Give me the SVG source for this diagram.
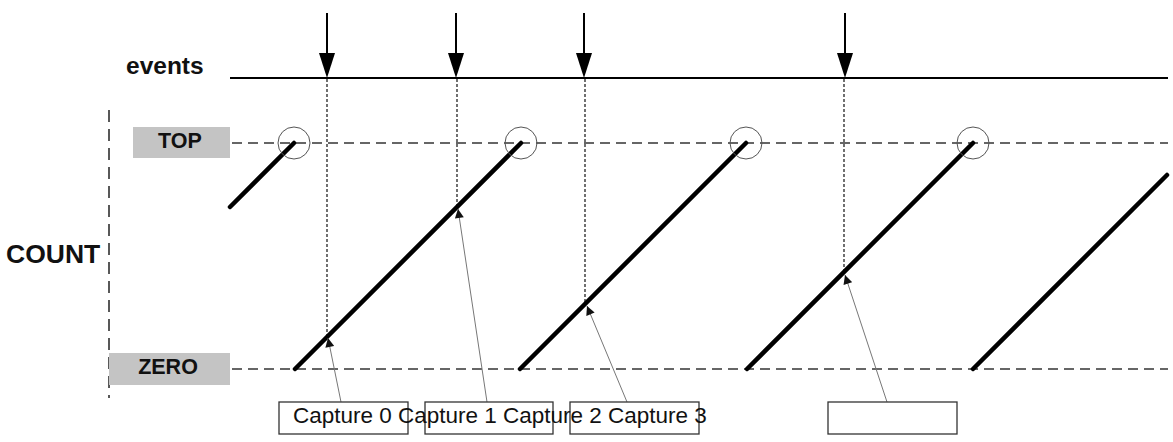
<svg xmlns="http://www.w3.org/2000/svg" width="1173" height="442" viewBox="0 0 1173 442">
<style>
.lbl{font-family:"Liberation Sans",Arial,sans-serif;font-weight:bold;fill:#111}
.cap{font-family:"Liberation Sans",Arial,sans-serif;font-size:22.5px;fill:#111}
.lvl{stroke:#666;stroke-width:2;stroke-dasharray:10 6;fill:none}
.dot{stroke:#111;stroke-width:1.2;stroke-dasharray:3 2;fill:none}
.saw{stroke:#000;stroke-width:4.5;stroke-linecap:round;fill:none}
.ring{stroke:#555;stroke-width:1;fill:none}
.box{stroke:#333;stroke-width:1.3;fill:#fff}
.ptr{stroke:#777;stroke-width:1;fill:none;marker-end:url(#ah)}
.ev{stroke:#000;stroke-width:2;fill:none}
.gbox{fill:#c4c4c4}
</style>
<defs>
<marker id="ah" viewBox="0 0 10 10" refX="10" refY="5" markerWidth="10" markerHeight="9" markerUnits="userSpaceOnUse" orient="auto">
<path d="M0,0 L10,5 L0,10 Z" fill="#111"/>
</marker>
<polygon id="evhead" points="-8,0 8,0 0,25" fill="#000"/>
</defs>
<rect width="1173" height="442" fill="#fff"/>

<g id="events">
<text class="lbl" x="126" y="74" font-size="24.5">events</text>
<line class="ev" x1="230" y1="78" x2="1168" y2="78" stroke-width="2.5"/>
<line class="ev" x1="327" y1="13" x2="327" y2="56"/>
<use href="#evhead" x="327" y="53"/>
<line class="ev" x1="456" y1="13" x2="456" y2="56"/>
<use href="#evhead" x="456" y="53"/>
<line class="ev" x1="584" y1="13" x2="584" y2="56"/>
<use href="#evhead" x="584" y="53"/>
<line class="ev" x1="845" y1="13" x2="845" y2="56"/>
<use href="#evhead" x="845" y="53"/>
</g>

<g id="count-axis">
<line x1="109" y1="110" x2="109" y2="398" stroke="#222" stroke-width="1.5" stroke-dasharray="12 7"/>
<text class="lbl" x="6" y="263" font-size="26.5">COUNT</text>
</g>

<g id="top">
<rect class="gbox" x="133" y="127" width="97" height="31"/>
<text class="lbl" x="180" y="148" font-size="21.5" text-anchor="middle">TOP</text>
<line class="lvl" x1="232" y1="143" x2="1168" y2="143"/>
</g>

<g id="zero">
<rect class="gbox" x="109" y="353" width="121" height="32"/>
<text class="lbl" x="168" y="374" font-size="21.5" text-anchor="middle">ZERO</text>
<line class="lvl" x1="232" y1="369" x2="1168" y2="369"/>
</g>

<g id="event-markers">
<line class="dot" x1="327" y1="79" x2="327" y2="337"/>
<line class="dot" x1="457" y1="79" x2="457" y2="207"/>
<line class="dot" x1="585" y1="79" x2="585" y2="304"/>
<line class="dot" x1="844" y1="79" x2="844" y2="273"/>
</g>

<g id="sawtooth">
<line class="saw" x1="230" y1="207" x2="294" y2="143"/>
<line class="saw" x1="295" y1="369" x2="521" y2="143"/>
<line class="saw" x1="520" y1="369" x2="746" y2="143"/>
<line class="saw" x1="747" y1="369" x2="973" y2="143"/>
<line class="saw" x1="973" y1="369" x2="1167" y2="175"/>
<circle class="ring" cx="294" cy="143" r="16"/>
<circle class="ring" cx="521" cy="143" r="16"/>
<circle class="ring" cx="746" cy="143" r="16"/>
<circle class="ring" cx="973" cy="143" r="16"/>
</g>

<g id="connectors">
<line class="ptr" x1="341" y1="402" x2="328" y2="338"/>
<line class="ptr" x1="487" y1="402" x2="458" y2="209"/>
<line class="ptr" x1="627" y1="402" x2="587" y2="306"/>
<line class="ptr" x1="887" y1="402" x2="845" y2="275"/>
</g>

<g id="capture0"><rect class="box" x="279" y="402" width="129" height="32"/></g>
<g id="capture1"><rect class="box" x="425" y="402" width="128" height="32"/></g>
<g id="capture2"><rect class="box" x="570" y="402" width="129" height="32"/></g>
<g id="capture3"><rect class="box" x="828" y="402" width="129" height="32"/></g>

<g id="capture-labels">
<text class="cap" x="293" y="423">Capture 0</text>
<text class="cap" x="398" y="423">Capture 1</text>
<text class="cap" x="503" y="423">Capture 2</text>
<text class="cap" x="608" y="423">Capture 3</text>
</g>
</svg>
